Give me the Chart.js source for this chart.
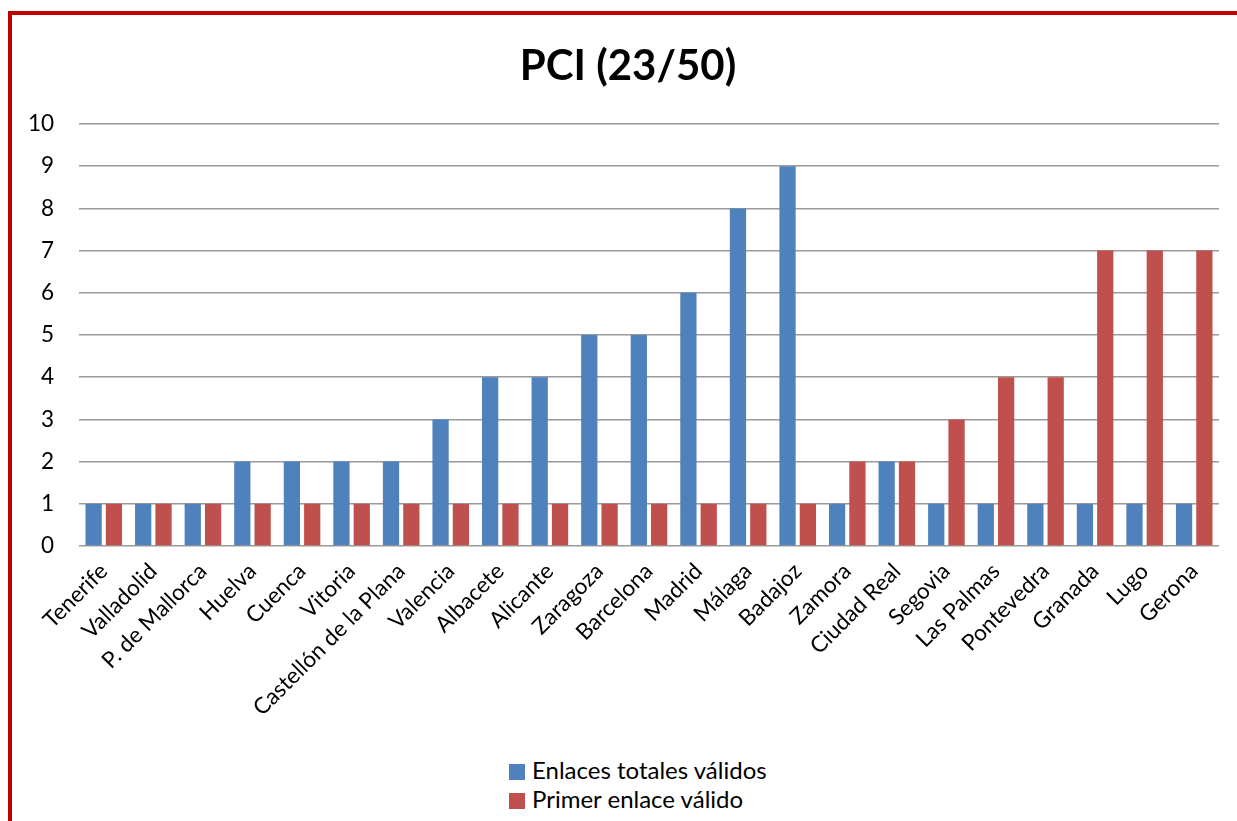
<!DOCTYPE html>
<html>
<head>
<meta charset="utf-8">
<script src="https://cdn.jsdelivr.net/npm/chart.js@4.4.0/dist/chart.umd.min.js"></script>
<style>
  body { margin: 0; background: #fff; }
  #frame { position: absolute; left: 8px; top: 11px; width: 1225px; height: 806px;
    border-left: 4px solid #C00000; border-top: 4px solid #C00000; }
  #wrap { position: absolute; left: 12px; top: 15px; width: 1225px; height: 713px; }
  #legend { position: absolute; left: 509px; top: 755px; font-family: Lato, sans-serif;
    font-size: 24px; color: #000; line-height: 29px; }
  #legend span.box { display: inline-block; width: 16px; height: 16px; margin-right: 7px; vertical-align: -1px; }
</style>
</head>
<body>
<div id="frame"></div>
<div id="wrap"><canvas id="chart1"></canvas></div>
<div id="legend"></div>
<script>
// data
const cities = ['Tenerife', 'Valladolid', 'P. de Mallorca', 'Huelva', 'Cuenca', 'Vitoria',
  'Castellón de la Plana', 'Valencia', 'Albacete', 'Alicante', 'Zaragoza', 'Barcelona',
  'Madrid', 'Málaga', 'Badajoz', 'Zamora', 'Ciudad Real', 'Segovia', 'Las Palmas',
  'Pontevedra', 'Granada', 'Lugo', 'Gerona'];
const enlacesTotales = [1, 1, 1, 2, 2, 2, 2, 3, 4, 4, 5, 5, 6, 8, 9, 1, 2, 1, 1, 1, 1, 1, 1];
const primerEnlace = [1, 1, 1, 1, 1, 1, 1, 1, 1, 1, 1, 1, 1, 1, 1, 2, 2, 3, 4, 4, 7, 7, 7];
const seriesNames = ['Enlaces totales válidos', 'Primer enlace válido'];
const seriesColors = ['#4F81BD', '#C0504D'];

const font = 'Lato';
// where the plot box and title sit inside the canvas in the original
const plotLeft = 67, plotTop = 109, plotBottom = 531, titleCenter = 616;

// keep the title centred where the original has it, whatever the padding does
const titleShift = {
  id: 'titleShift',
  afterLayout(chart) {
    const t = chart.titleBlock;
    if (t) {
      const dx = titleCenter - (t.left + t.right) / 2;
      t.left += dx;
      t.right += dx;
    }
  }
};

const chart1 = new Chart('chart1', {
  type: 'bar',
  data: {
    labels: cities,
    datasets: [{
      label: seriesNames[0],
      data: enlacesTotales,
      backgroundColor: seriesColors[0],
      barPercentage: 0.8,
      categoryPercentage: 0.82
    }, {
      label: seriesNames[1],
      data: primerEnlace,
      backgroundColor: seriesColors[1],
      barPercentage: 0.8,
      categoryPercentage: 0.82
    }]
  },
  options: {
    responsive: true,
    maintainAspectRatio: false,
    animation: false,
    layout: { padding: { left: 2, right: 18, top: 0, bottom: 0 } },
    plugins: {
      legend: { display: false },
      tooltip: { enabled: false },
      title: {
        display: true,
        text: 'PCI (23/50)',
        color: '#000',
        font: { family: font, size: 42, weight: 'bold' },
        padding: { top: 26, bottom: 32 }
      }
    },
    scales: {
      x: {
        grid: { display: false },
        border: { display: false },
        // let the rotated first label hang under the y labels, as in the original
        afterFit: function(scale) { scale.paddingLeft = 0; },
        ticks: {
          color: '#000',
          font: { family: font, size: 22.5 },
          autoSkip: false,
          maxRotation: 45,
          minRotation: 45,
          padding: 4
        }
      },
      y: {
        min: 0,
        max: 10,
        grid: { color: '#999', lineWidth: 1.5, drawTicks: false },
        border: { display: false },
        ticks: {
          stepSize: 1,
          color: '#000',
          font: { family: font, size: 22.5 },
          padding: 25
        }
      }
    }
  },
  plugins: [titleShift]
});

// nudge the layout so the plot box lands where it is in the original
const area = chart1.chartArea;
chart1.options.layout.padding.left += plotLeft - area.left;
chart1.options.layout.padding.bottom += area.bottom - plotBottom;
chart1.options.plugins.title.padding.bottom += plotTop - area.top;
chart1.update();

// legend, stacked like the original
const legendEl = document.getElementById('legend');
seriesNames.forEach(function(name, i) {
  const row = document.createElement('div');
  row.innerHTML = '<span class="box" style="background:' + seriesColors[i] + '"></span>' + name;
  legendEl.appendChild(row);
});
</script>
</body>
</html>
